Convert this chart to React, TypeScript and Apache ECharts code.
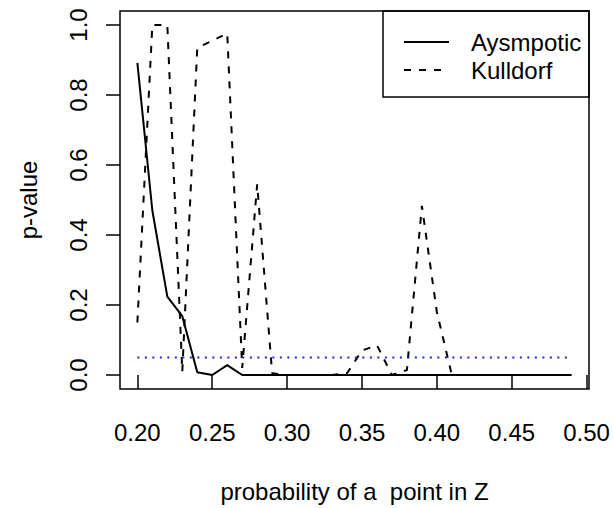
import React, { useEffect, useRef } from "react";
import * as echarts from "echarts";

const xValues = [
  0.2, 0.21, 0.22, 0.23, 0.24, 0.25, 0.26, 0.27, 0.28, 0.29,
  0.3, 0.31, 0.32, 0.33, 0.34, 0.35, 0.36, 0.37, 0.38, 0.39,
  0.4, 0.41, 0.42, 0.43, 0.44, 0.45, 0.46, 0.47, 0.48, 0.49,
];
const asymptotic = [
  0.892, 0.47, 0.224, 0.168, 0.008, 0, 0.028, 0, 0, 0,
  0, 0, 0, 0, 0, 0, 0, 0, 0, 0,
  0, 0, 0, 0, 0, 0, 0, 0, 0, 0,
];
const kulldorf = [
  0.15, 1.0, 1.0, 0.01, 0.935, 0.955, 0.976, 0.02, 0.545, 0.005,
  0, 0, 0, 0, 0.005, 0.07, 0.085, 0, 0.014, 0.483,
  0.18, 0, 0, 0, 0, 0, 0, 0, 0, 0,
];
const thresholdX = [0.2, 0.49];
const thresholdValue = 0.05;
const xTicks = [0.2, 0.25, 0.3, 0.35, 0.4, 0.45, 0.5];
const yTicks = [0, 0.2, 0.4, 0.6, 0.8, 1.0];
const legendNames = ["Aysmpotic", "Kulldorf"];
const xTitle = "probability of a  point in Z";
const yTitle = "p-value";

const FONT = "Liberation Sans, Arial, sans-serif";

export default function App() {
  const ref = useRef<HTMLDivElement>(null);
  useEffect(() => {
    if (!ref.current) return;
    const chart = echarts.init(ref.current, null, { renderer: "svg" });
    const pair = (vals: number[]) => xValues.map((x, i) => [x, vals[i]]);
    chart.setOption({
      animation: false,
      backgroundColor: "#ffffff",
      textStyle: { fontFamily: FONT },
      grid: {
        left: 120,
        top: 11,
        width: 469,
        height: 380,
        show: true,
        borderColor: "#000",
        borderWidth: 1.5,
        backgroundColor: "transparent",
      },
      legend: {
        show: true,
        data: legendNames,
        orient: "vertical",
        left: 403,
        top: 30,
        padding: 0,
        itemGap: 4,
        itemWidth: 45,
        itemHeight: 14,
        itemStyle: {
          color: "transparent",
          borderColor: "transparent",
          borderWidth: 0,
          opacity: 0,
        },
        textStyle: {
          fontFamily: FONT,
          fontSize: 24,
          color: "#000",
          padding: [0, 0, 0, 17],
        },
      },
      xAxis: {
        type: "value",
        min: 0.1884,
        max: 0.5016,
        name: xTitle,
        nameLocation: "middle",
        nameGap: 90,
        nameTextStyle: { fontFamily: FONT, fontSize: 24, color: "#000" },
        axisLine: { show: false },
        splitLine: { show: false },
        axisTick: {
          show: true,
          length: 14,
          customValues: xTicks,
          lineStyle: { color: "#000", width: 1.5 },
        },
        axisLabel: {
          show: true,
          customValues: xTicks,
          margin: 31,
          fontFamily: FONT,
          fontSize: 24,
          color: "#000",
          formatter: (v: number) => v.toFixed(2),
        },
      },
      yAxis: {
        type: "value",
        min: -0.04,
        max: 1.04,
        name: yTitle,
        nameLocation: "middle",
        nameRotate: 90,
        nameGap: 80,
        nameTextStyle: { fontFamily: FONT, fontSize: 24, color: "#000" },
        axisLine: { show: false },
        splitLine: { show: false },
        axisTick: {
          show: true,
          length: 14,
          customValues: yTicks,
          lineStyle: { color: "#000", width: 1.5 },
        },
        axisLabel: {
          show: true,
          customValues: yTicks,
          rotate: 90,
          margin: 30,
          fontFamily: FONT,
          fontSize: 24,
          color: "#000",
          formatter: (v: number) => v.toFixed(1),
        },
      },
      series: [
        {
          name: legendNames[0],
          type: "line",
          data: pair(asymptotic),
          symbol: "none",
          lineStyle: { color: "#000", width: 2, type: "solid" },
          itemStyle: { color: "#000" },
        },
        {
          name: legendNames[1],
          type: "line",
          data: pair(kulldorf),
          symbol: "none",
          lineStyle: { color: "#000", width: 2, type: [7, 8] },
          itemStyle: { color: "#000" },
        },
        {
          name: "threshold",
          type: "line",
          data: thresholdX.map((x) => [x, thresholdValue]),
          symbol: "none",
          lineStyle: { color: "#2626c4", width: 2, type: [2, 5.5] },
          silent: true,
        },
      ],
      graphic: [
        {
          type: "rect",
          shape: { x: 383, y: 11, width: 206, height: 86 },
          style: { fill: "none", stroke: "#000", lineWidth: 1.5 },
          silent: true,
        },
      ],
    });
    return () => chart.dispose();
  }, []);
  return (
    <div
      ref={ref}
      style={{ position: "fixed", left: 0, top: 0, width: 613, height: 508 }}
    />
  );
}
